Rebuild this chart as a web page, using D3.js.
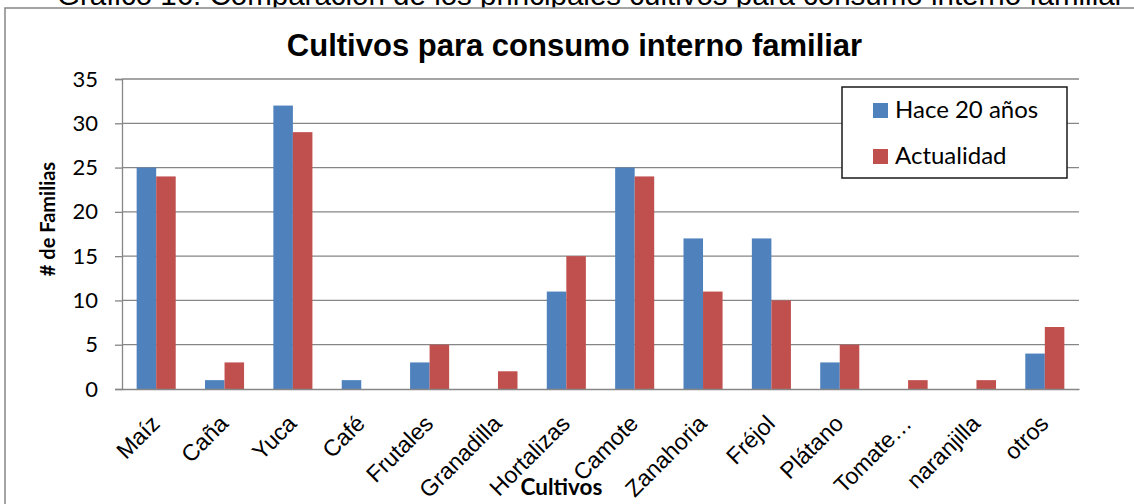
<!DOCTYPE html>
<html>
<head>
<meta charset="utf-8">
<script src="https://cdn.jsdelivr.net/npm/d3@7"></script>
<style>
  html, body { margin: 0; padding: 0; background: #fff; }
  svg { display: block; }
</style>
</head>
<body>
<svg id="chart" width="1134" height="504"></svg>
<script>
// ---- data ----
const categories = ["Maíz", "Caña", "Yuca", "Café", "Frutales", "Granadilla", "Hortalizas", "Camote", "Zanahoria", "Fréjol", "Plátano", "Tomate…", "naranjilla", "otros"];
const seriesNames = ["Hace 20 años", "Actualidad"];
const hace20 = [25, 1, 32, 1, 3, 0, 11, 25, 17, 17, 3, 0, 0, 4];
const actualidad = [24, 3, 29, 0, 5, 2, 15, 24, 11, 10, 5, 1, 1, 7];
const yTicks = [0, 5, 10, 15, 20, 25, 30, 35];
const caption = "Gráfico 16: Comparación de los principales cultivos para consumo interno familiar";
const title = "Cultivos para consumo interno familiar";
const xTitle = "Cultivos";
const yTitle = "# de Familias";

const colors = ["#4F81BD", "#C0504D"];
const gridColor = "#868686";
const calibri = "Lato, 'Open Sans', sans-serif";
const arial = "'Liberation Sans', Arial, sans-serif";

const svg = d3.select("#chart");

// caption (partially hidden under the chart frame, as in the reference)
svg.append("text")
  .attr("x", 57).attr("y", 5)
  .attr("font-family", arial).attr("font-size", 29.5)
  .attr("fill", "#000")
  .text(caption);

// chart frame
svg.append("rect")
  .attr("x", 5).attr("y", 8).attr("width", 1200).attr("height", 600)
  .attr("fill", "#fff").attr("stroke", gridColor).attr("stroke-width", 1.5);

const pLeft = 122, pRight = 1079, pTop = 79, pBottom = 389;

const x0 = d3.scaleBand().domain(categories).range([pLeft, pRight])
  .paddingInner(0.4286).paddingOuter(0.2143);
const x1 = d3.scaleBand().domain(seriesNames).range([0, x0.bandwidth()]).padding(0);
const y = d3.scaleLinear().domain([0, 35]).range([pBottom, pTop]);

// gridlines
svg.append("g")
  .selectAll("line").data(yTicks.filter(d => d > 0)).join("line")
  .attr("x1", pLeft).attr("x2", pRight)
  .attr("y1", d => y(d)).attr("y2", d => y(d))
  .attr("stroke", gridColor).attr("stroke-width", 1.3);

// y axis
const yAxis = d3.axisLeft(y).tickValues(yTicks).tickSize(7).tickPadding(17);
const yg = svg.append("g").attr("transform", `translate(${pLeft},0)`).call(yAxis);
yg.select(".domain").attr("stroke", gridColor).attr("stroke-width", 1.3);
yg.selectAll(".tick line").attr("stroke", gridColor).attr("stroke-width", 1.3);
yg.selectAll(".tick text").attr("font-family", calibri).attr("font-size", 22).attr("fill", "#000");

// bars
const data = categories.map((c, i) => ({ cat: c, vals: [hace20[i], actualidad[i]] }));
const groups = svg.append("g").selectAll("g").data(data).join("g")
  .attr("transform", d => `translate(${x0(d.cat)},0)`);
groups.selectAll("rect").data(d => d.vals.map((v, j) => ({ s: seriesNames[j], v, j }))).join("rect")
  .attr("x", d => x1(d.s))
  .attr("width", x1.bandwidth())
  .attr("y", d => y(d.v))
  .attr("height", d => y(0) - y(d.v))
  .attr("fill", d => colors[d.j]);

// x axis
const xAxis = d3.axisBottom(x0).tickSize(0).tickPadding(0);
const xg = svg.append("g").attr("transform", `translate(0,${pBottom})`).call(xAxis);
xg.select(".domain").attr("stroke", gridColor).attr("stroke-width", 1.3);
xg.selectAll(".tick text")
  .attr("font-family", arial).attr("font-size", 23).attr("fill", "#000")
  .attr("text-anchor", "end")
  .attr("dy", null)
  .attr("transform", "translate(5,36) rotate(-45)");

// titles
svg.append("text")
  .attr("x", 574.5).attr("y", 56).attr("text-anchor", "middle")
  .attr("font-family", arial).attr("font-weight", "bold").attr("font-size", 31)
  .text(title);

svg.append("text")
  .attr("x", 561.5).attr("y", 495).attr("text-anchor", "middle")
  .attr("font-family", calibri).attr("font-weight", "bold").attr("font-size", 22.5)
  .text(xTitle);

svg.append("text")
  .attr("transform", "translate(55,219) rotate(-90)")
  .attr("text-anchor", "middle")
  .attr("font-family", calibri).attr("font-weight", "bold").attr("font-size", 20)
  .text(yTitle);

// legend
const lg = svg.append("g");
lg.append("rect").attr("x", 842).attr("y", 87).attr("width", 225).attr("height", 91)
  .attr("fill", "#fff").attr("stroke", "#1a1a1a").attr("stroke-width", 1.5);
seriesNames.forEach((s, i) => {
  lg.append("rect").attr("x", 873).attr("y", 103 + i * 46).attr("width", 15).attr("height", 15)
    .attr("fill", colors[i]);
  lg.append("text").attr("x", 895).attr("y", 118 + i * 46)
    .attr("font-family", calibri).attr("font-size", 24).attr("fill", "#000")
    .text(s);
});
</script>
</body>
</html>
